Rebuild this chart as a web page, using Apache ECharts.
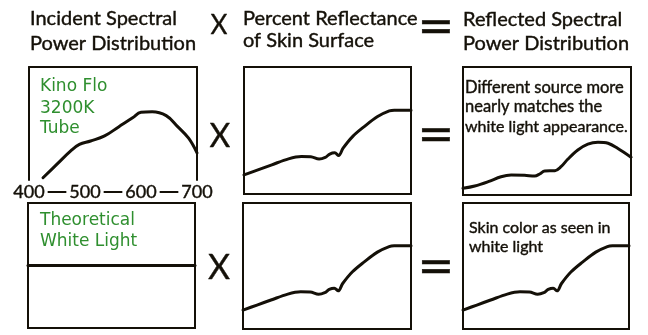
<!DOCTYPE html>
<html><head><meta charset="utf-8">
<script src="https://cdn.jsdelivr.net/npm/echarts@6/dist/echarts.min.js"></script>
<style>html,body{margin:0;padding:0;background:#fff}#c{width:648px;height:335px}</style>
</head><body><div id="c"></div>
<script>
// Wavelength axis ticks (nm)
const wavelengthTicks = [400, 500, 600, 700];

// Kino Flo 3200K tube: incident spectral power
const kinoFloWl    = [425, 450, 475, 490, 510, 535, 560, 585, 600, 620, 645, 665, 685, 700];
const kinoFloPower = [2, 14, 26, 31.5, 34.5, 39, 47, 55, 60, 60.5, 57, 47.5, 37, 24];

// Percent reflectance of skin surface
const skinWl          = [400, 425, 450, 480, 503, 520, 535, 546, 554, 563, 570, 578, 595, 616, 640, 661, 670, 700];
const skinReflectance = [15, 19, 23, 27.7, 29.5, 29.3, 27.5, 28.8, 31.4, 32.4, 30.3, 36.1, 45.2, 53.1, 61, 65.4, 66, 66];

// Reflected spectrum under the Kino Flo tube
const kinoSkinWl    = [400, 421, 445, 468, 486, 510, 528, 537, 546, 564, 575, 587, 605, 623, 641, 659, 676, 700];
const kinoSkinPower = [5.2, 7, 10.4, 14.3, 15.6, 15.4, 14.8, 16.4, 18.8, 19, 22.1, 27.9, 35.2, 39.8, 41.2, 40.4, 36.5, 29.5];

// Theoretical white light: flat spectrum
const whiteWl    = [400, 700];
const whitePower = [50, 50];

// Reflected spectrum under white light
const whiteSkinWl    = [400, 425, 450, 480, 503, 520, 535, 546, 554, 563, 570, 578, 595, 616, 640, 661, 670, 700];
const whiteSkinPower = [15, 19, 23, 27.7, 29.5, 29.3, 27.5, 28.8, 31.4, 32.4, 30.3, 36.1, 45.2, 53.1, 61, 65.4, 66, 66];

const INK = '#141008';
const GREEN = '#2f8f2f';
const HEAD_FONT = 'Lato';
const NOTE_FONT = 'DejaVu Sans';

const pairs = (xs, ys) => xs.map((x, i) => [x, ys[i]]);

// Panel rectangles: [left, top, width, height]
const panels = [
  [29, 67, 168, 113],   // incident: Kino Flo (open bottom, wavelength scale below)
  [244, 67, 167, 127],  // reflectance (top row)
  [463, 67, 168, 128],  // reflected: Kino Flo
  [28, 203, 167, 125],  // incident: white light
  [243, 203, 168, 126], // reflectance (bottom row)
  [463, 203, 166, 126]  // reflected: white light
];

const grid = panels.map((p, i) => ({
  left: p[0], top: p[1], width: p[2], height: p[3],
  show: i !== 0, borderColor: INK, borderWidth: 2, backgroundColor: 'transparent'
}));

const hiddenX = gi => ({ type: 'value', gridIndex: gi, min: 400, max: 700, show: false });
const hiddenY = gi => ({ type: 'value', gridIndex: gi, min: 0, max: 100, show: false });

const xAxis = [
  { // wavelength scale under the first panel
    type: 'value', gridIndex: 0, min: 400, max: 700, interval: 100, position: 'bottom', offset: 12,
    axisLine: { show: true, onZero: false, lineStyle: { color: INK, width: 2 } },
    axisTick: { show: false }, splitLine: { show: false },
    axisLabel: {
      show: true, margin: 0, verticalAlign: 'middle', color: INK,
      fontFamily: HEAD_FONT, fontSize: 18, backgroundColor: '#fff', padding: [0, 3],
      textBorderColor: INK, textBorderWidth: 0.4,
      customValues: wavelengthTicks
    }
  },
  { // top edge of the first panel
    type: 'value', gridIndex: 0, min: 400, max: 700, position: 'top',
    axisLine: { show: true, onZero: false, lineStyle: { color: INK, width: 2 } },
    axisTick: { show: false }, axisLabel: { show: false }, splitLine: { show: false }
  },
  hiddenX(1), hiddenX(2), hiddenX(3), hiddenX(4), hiddenX(5)
];

const edgeY = pos => ({
  type: 'value', gridIndex: 0, min: 0, max: 100, position: pos,
  axisLine: { show: true, onZero: false, lineStyle: { color: INK, width: 2 } },
  axisTick: { show: false }, axisLabel: { show: false }, splitLine: { show: false }
});

const yAxis = [edgeY('left'), edgeY('right'), hiddenY(1), hiddenY(2), hiddenY(3), hiddenY(4), hiddenY(5)];

const curve = (xi, yi, data, smooth) => ({
  type: 'line', xAxisIndex: xi, yAxisIndex: yi, data, smooth,
  showSymbol: false, silent: true, animation: false,
  lineStyle: { color: INK, width: 3, cap: 'round', join: 'round' }
});

const series = [
  curve(0, 0, pairs(kinoFloWl, kinoFloPower), 0.4),
  curve(2, 2, pairs(skinWl, skinReflectance), 0.35),
  curve(3, 3, pairs(kinoSkinWl, kinoSkinPower), 0.35),
  curve(4, 4, pairs(whiteWl, whitePower), false),
  curve(5, 5, pairs(skinWl, skinReflectance), 0.35),
  curve(6, 6, pairs(whiteSkinWl, whiteSkinPower), 0.35)
];

const txt = (text, x, y, size, color, font, extra) => ({
  type: 'text', x, y, silent: true,
  style: Object.assign({ text, fill: color, fontSize: size, fontFamily: font,
    verticalAlign: 'middle', align: 'left', stroke: color, lineWidth: 0.4 }, extra || {})
});

const graphic = [
  // column headings
  txt('Incident Spectral', 30, 19, 20, INK, HEAD_FONT),
  txt('Power Distribution', 30, 44, 20, INK, HEAD_FONT),
  txt('Percent Reflectance', 243, 19, 20, INK, HEAD_FONT),
  txt('of Skin Surface', 243, 41, 20, INK, HEAD_FONT),
  txt('Reflected Spectral', 463, 20, 20, INK, HEAD_FONT),
  txt('Power Distribution', 463, 43.5, 20, INK, HEAD_FONT),
  // operators
  txt('X', 219, 26, 26, INK, HEAD_FONT, { align: 'center' }),
  txt('X', 220, 137, 32, INK, HEAD_FONT, { align: 'center' }),
  txt('X', 219, 268, 34, INK, HEAD_FONT, { align: 'center' }),
  txt('=', 436, 30, 44, INK, NOTE_FONT, { align: 'center' }),
  txt('=', 436, 138, 44, INK, NOTE_FONT, { align: 'center' }),
  txt('=', 436, 269.5, 44, INK, NOTE_FONT, { align: 'center' }),
  // light source labels
  txt('Kino Flo', 40, 86.5, 17, GREEN, NOTE_FONT, { lineWidth: 0 }),
  txt('3200K', 40, 108.5, 17, GREEN, NOTE_FONT, { lineWidth: 0 }),
  txt('Tube', 40, 129, 17, GREEN, NOTE_FONT, { lineWidth: 0 }),
  txt('Theoretical', 40, 221, 17, GREEN, NOTE_FONT, { lineWidth: 0 }),
  txt('White Light', 40, 242, 17, GREEN, NOTE_FONT, { lineWidth: 0 }),
  // notes on the reflected spectra
  txt('Different source more', 465, 88, 16.5, INK, HEAD_FONT),
  txt('nearly matches the', 465, 107, 16.5, INK, HEAD_FONT),
  txt('white light appearance.', 465, 127, 16, INK, HEAD_FONT),
  txt('Skin color as seen in', 469, 228, 16, INK, HEAD_FONT),
  txt('white light', 469, 247, 16, INK, HEAD_FONT)
];

const chart = echarts.init(document.getElementById('c'), null, { renderer: 'canvas' });
chart.setOption({ animation: false, backgroundColor: '#fff', grid, xAxis, yAxis, series, graphic });
</script></body></html>
